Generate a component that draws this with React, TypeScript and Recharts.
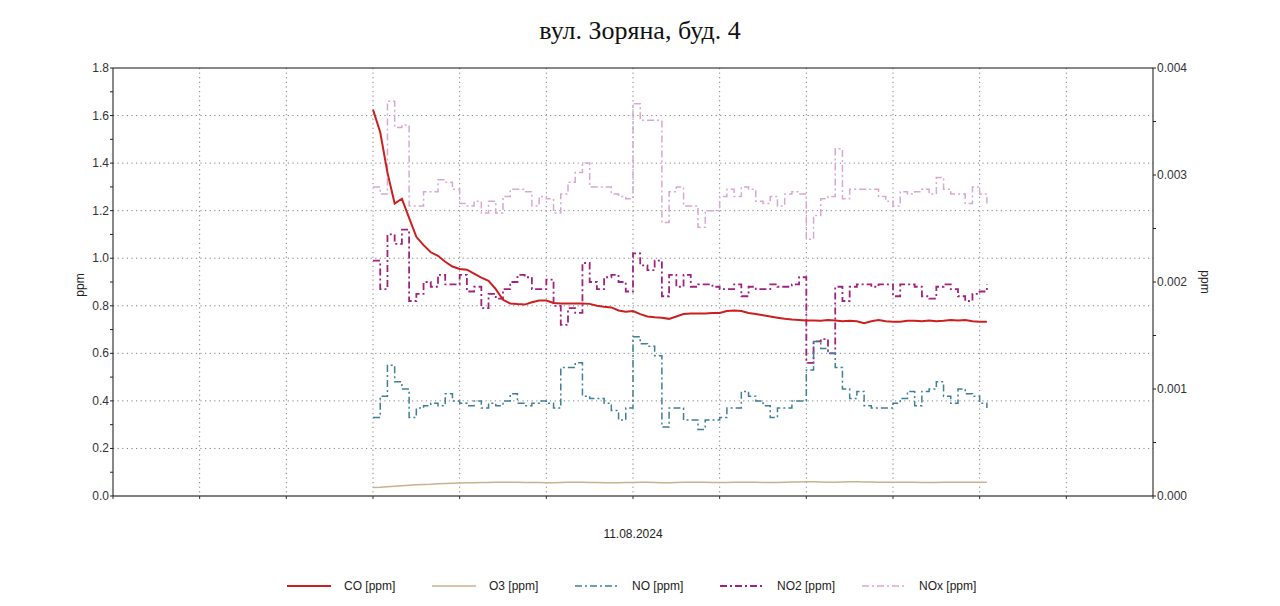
import * as React from "react";
import {
  LineChart,
  Line,
  XAxis,
  YAxis,
  CartesianGrid,
  ReferenceLine,
} from "recharts";

// ── Data: minutes since midnight on 11.08.2024, 10-min samples ──────────────
const TIMES = [
  360, 370, 380, 390, 400, 410, 420, 430, 440, 450,
  460, 470, 480, 490, 500, 510, 520, 530, 540, 550,
  560, 570, 580, 590, 600, 610, 620, 630, 640, 650,
  660, 670, 680, 690, 700, 710, 720, 730, 740, 750,
  760, 770, 780, 790, 800, 810, 820, 830, 840, 850,
  860, 870, 880, 890, 900, 910, 920, 930, 940, 950,
  960, 970, 980, 990, 1000, 1010, 1020, 1030, 1040, 1050,
  1060, 1070, 1080, 1090, 1100, 1110, 1120, 1130, 1140, 1150,
  1160, 1170, 1180, 1190, 1200, 1210,
];

const CO = [
  1.625, 1.53, 1.36, 1.23, 1.25, 1.17, 1.09, 1.055, 1.025, 1.01,
  0.985, 0.965, 0.955, 0.952, 0.935, 0.918, 0.905, 0.87, 0.825, 0.81,
  0.807, 0.805, 0.815, 0.822, 0.822, 0.812, 0.81, 0.81, 0.81, 0.81,
  0.808, 0.8, 0.796, 0.793, 0.78, 0.775, 0.778, 0.765, 0.755, 0.752,
  0.75, 0.745, 0.755, 0.765, 0.768, 0.768, 0.768, 0.77, 0.77, 0.778,
  0.78, 0.778, 0.77, 0.765, 0.76, 0.755, 0.75, 0.745, 0.742, 0.74,
  0.738, 0.738, 0.737, 0.74, 0.738, 0.735, 0.737, 0.735, 0.727, 0.735,
  0.74, 0.735, 0.733, 0.733, 0.737, 0.737, 0.735, 0.738, 0.735, 0.737,
  0.74, 0.738, 0.74, 0.735, 0.733, 0.733,
];

const O3 = [
  0.036, 0.037, 0.039, 0.041, 0.043, 0.045, 0.047, 0.048, 0.049, 0.051,
  0.053, 0.054, 0.055, 0.056, 0.056, 0.057, 0.057, 0.058, 0.058, 0.058,
  0.058, 0.057, 0.057, 0.057, 0.056, 0.056, 0.057, 0.058, 0.058, 0.058,
  0.057, 0.057, 0.056, 0.056, 0.056, 0.057, 0.057, 0.058, 0.058, 0.057,
  0.056, 0.056, 0.057, 0.058, 0.058, 0.058, 0.058, 0.057, 0.057, 0.057,
  0.058, 0.058, 0.058, 0.058, 0.057, 0.057, 0.057, 0.058, 0.059, 0.059,
  0.06, 0.06, 0.059, 0.058, 0.058, 0.059, 0.06, 0.06, 0.059, 0.059,
  0.058, 0.058, 0.058, 0.058, 0.058, 0.058, 0.057, 0.057, 0.057, 0.058,
  0.058, 0.058, 0.058, 0.058, 0.058, 0.058,
];

const NO = [
  0.33, 0.42, 0.55, 0.48, 0.45, 0.33, 0.37, 0.38, 0.39, 0.38,
  0.43, 0.4, 0.39, 0.38, 0.4, 0.37, 0.39, 0.38, 0.4, 0.43,
  0.39, 0.38, 0.39, 0.4, 0.39, 0.37, 0.54, 0.54, 0.56, 0.42,
  0.41, 0.41, 0.39, 0.36, 0.32, 0.37, 0.67, 0.64, 0.63, 0.59,
  0.29, 0.37, 0.37, 0.32, 0.32, 0.28, 0.32, 0.32, 0.33, 0.37,
  0.37, 0.44, 0.42, 0.4, 0.38, 0.33, 0.37, 0.37, 0.4, 0.4,
  0.53, 0.65, 0.62, 0.6, 0.54, 0.45, 0.41, 0.44, 0.38, 0.37,
  0.37, 0.37, 0.39, 0.41, 0.44, 0.38, 0.44, 0.45, 0.48, 0.42,
  0.39, 0.45, 0.43, 0.42, 0.39, 0.37,
];

const NO2 = [
  0.99, 0.87, 1.1, 1.06, 1.12, 0.82, 0.85, 0.9, 0.88, 0.93,
  0.89, 0.89, 0.93, 0.86, 0.88, 0.79, 0.85, 0.83, 0.87, 0.9,
  0.93, 0.92, 0.87, 0.87, 0.91, 0.8, 0.72, 0.79, 0.77, 0.98,
  0.9, 0.87, 0.92, 0.93, 0.9, 0.86, 1.02, 0.97, 0.95, 0.99,
  0.84, 0.93, 0.88, 0.93, 0.88, 0.89, 0.89, 0.88, 0.87, 0.87,
  0.89, 0.84, 0.88, 0.87, 0.87, 0.89, 0.88, 0.88, 0.89, 0.92,
  0.56, 0.65, 0.66, 0.6, 0.88, 0.82, 0.88, 0.89, 0.89, 0.88,
  0.89, 0.89, 0.84, 0.89, 0.89, 0.88, 0.84, 0.83, 0.88, 0.89,
  0.87, 0.84, 0.82, 0.85, 0.86, 0.89,
];

const NOX = [
  1.3, 1.27, 1.66, 1.55, 1.56, 1.22, 1.22, 1.28, 1.28, 1.33,
  1.32, 1.29, 1.23, 1.22, 1.24, 1.19, 1.24, 1.19, 1.26, 1.29,
  1.29, 1.28, 1.22, 1.26, 1.25, 1.19, 1.27, 1.32, 1.36, 1.4,
  1.3, 1.3, 1.3, 1.27, 1.26, 1.25, 1.65, 1.58, 1.58, 1.58,
  1.15, 1.28, 1.3, 1.22, 1.22, 1.13, 1.2, 1.2, 1.26, 1.29,
  1.26, 1.3, 1.29, 1.24, 1.23, 1.26, 1.22, 1.27, 1.28, 1.27,
  1.08, 1.18, 1.25, 1.26, 1.46, 1.25, 1.29, 1.29, 1.29, 1.29,
  1.26, 1.24, 1.22, 1.28, 1.27, 1.28, 1.29, 1.27, 1.34, 1.29,
  1.27, 1.27, 1.23, 1.3, 1.27, 1.23,
];

const X_TICKS = [0, 120, 240, 360, 480, 600, 720, 840, 960, 1080, 1200, 1320, 1440];
const LEFT_TICKS = [0, 0.1, 0.2, 0.3, 0.4, 0.5, 0.6, 0.7, 0.8, 0.9, 1.0, 1.1, 1.2, 1.3, 1.4, 1.5, 1.6, 1.7, 1.8];
const LEFT_GRID = [0.2, 0.4, 0.6, 0.8, 1.0, 1.2, 1.4, 1.6];
const RIGHT_TICKS = [0, 0.0005, 0.001, 0.0015, 0.002, 0.0025, 0.003, 0.0035, 0.004];

const TITLE = "вул. Зоряна, буд. 4";
const DATE_LABEL = "11.08.2024";
const UNIT = "ppm";

// ── Styling ────────────────────────────────────────────────────────────────
const SANS = "'Liberation Sans', Arial, sans-serif";
const DASH_DOT = "7 3 2 3";

const SERIES = [
  { key: "co", name: "CO [ppm]", color: "#cc1f1f", width: 2, dash: undefined, step: false },
  { key: "o3", name: "O3 [ppm]", color: "#c9b18f", width: 1.5, dash: undefined, step: false },
  { key: "no", name: "NO [ppm]", color: "#3f7f99", width: 1.5, dash: DASH_DOT, step: true },
  { key: "no2", name: "NO2 [ppm]", color: "#a3217f", width: 1.8, dash: DASH_DOT, step: true },
  { key: "nox", name: "NOx [ppm]", color: "#d9a7d0", width: 1.5, dash: DASH_DOT, step: true },
];

const LEGEND_X = [287, 432, 575, 720, 862];

const rows = TIMES.map((t, i) => ({
  t,
  co: CO[i],
  o3: O3[i],
  no: NO[i],
  no2: NO2[i],
  nox: NOX[i],
}));

function LeftTick(props: any) {
  const { x, y, payload } = props;
  const v = payload.value as number;
  if (Math.round(v * 10) % 2 !== 0) return null;
  return (
    <text x={x} y={y} dy={4} textAnchor="end" fontSize={12} fill="#333" fontFamily={SANS}>
      {v.toFixed(1)}
    </text>
  );
}

function RightTick(props: any) {
  const { x, y, payload } = props;
  const v = payload.value as number;
  if (Math.round(v * 2000) % 2 !== 0) return null;
  return (
    <text x={x} y={y} dy={4} textAnchor="start" fontSize={12} fill="#333" fontFamily={SANS}>
      {v.toFixed(3)}
    </text>
  );
}

export default function App() {
  return (
    <div
      style={{
        position: "absolute",
        left: 0,
        top: 0,
        width: 1280,
        height: 606,
        background: "#fff",
        overflow: "hidden",
      }}
    >
      <div
        style={{
          position: "absolute",
          left: 0,
          top: 16,
          width: 1280,
          textAlign: "center",
          fontFamily: "'Liberation Serif', 'Times New Roman', serif",
          fontSize: 26,
          color: "#111",
        }}
      >
        {TITLE}
      </div>

      <div style={{ position: "absolute", left: 0, top: 0 }}>
        <LineChart
          width={1280}
          height={606}
          data={rows}
          margin={{ top: 68, right: 77, bottom: 70, left: 63 }}
        >
          <CartesianGrid
            yAxisId="left"
            stroke="#808080"
            strokeDasharray="1.2 3.4"
            horizontalValues={LEFT_GRID}
            verticalValues={X_TICKS.slice(1, -1)}
          />
          <XAxis
            dataKey="t"
            type="number"
            domain={[0, 1440]}
            ticks={X_TICKS}
            tickFormatter={() => ""}
            tickSize={3}
            tickLine={{ stroke: "#333" }}
            axisLine={{ stroke: "#808080", strokeWidth: 2 }}
            height={40}
            label={{
              value: DATE_LABEL,
              position: "insideBottom",
              offset: -2,
              fontSize: 12,
              fill: "#222",
              fontFamily: SANS,
            }}
          />
          <YAxis
            yAxisId="left"
            type="number"
            domain={[0, 1.8]}
            ticks={LEFT_TICKS}
            interval={0}
            width={50}
            tickSize={3}
            tickMargin={1}
            tickLine={{ stroke: "#222" }}
            axisLine={{ stroke: "#111" }}
            tick={<LeftTick />}
          />
          <YAxis
            yAxisId="right"
            orientation="right"
            type="number"
            domain={[0, 0.004]}
            allowDataOverflow
            ticks={RIGHT_TICKS}
            interval={0}
            width={50}
            tickSize={3}
            tickMargin={1}
            tickLine={{ stroke: "#222" }}
            axisLine={{ stroke: "#111" }}
            tick={<RightTick />}
          />
          <ReferenceLine yAxisId="left" y={1.8} stroke="#111" />
          {/* invisible series so the secondary ppm axis gets a scale */}
          <Line
            yAxisId="right"
            dataKey="o3"
            stroke="transparent"
            strokeWidth={0}
            dot={false}
            activeDot={false}
            legendType="none"
            isAnimationActive={false}
          />
          {SERIES.slice()
            .reverse()
            .map((s) => (
              <Line
                key={s.key}
                yAxisId="left"
                dataKey={s.key}
                name={s.name}
                type={s.step ? "stepAfter" : "linear"}
                stroke={s.color}
                strokeWidth={s.width}
                strokeDasharray={s.dash}
                dot={false}
                activeDot={false}
                isAnimationActive={false}
              />
            ))}
        </LineChart>
      </div>

      <div
        style={{
          position: "absolute",
          left: 80,
          top: 285,
          transform: "translate(-50%, -50%) rotate(-90deg)",
          fontFamily: SANS,
          fontSize: 12,
          color: "#222",
        }}
      >
        {UNIT}
      </div>
      <div
        style={{
          position: "absolute",
          left: 1205,
          top: 282,
          transform: "translate(-50%, -50%) rotate(90deg)",
          fontFamily: SANS,
          fontSize: 12,
          color: "#222",
        }}
      >
        {UNIT}
      </div>

      {SERIES.map((s, i) => (
        <div
          key={s.key}
          style={{
            position: "absolute",
            left: LEGEND_X[i],
            top: 578,
            height: 16,
            display: "flex",
            alignItems: "center",
            fontFamily: SANS,
            fontSize: 12,
            color: "#222",
          }}
        >
          <svg width={44} height={16} style={{ marginRight: 13 }}>
            <line
              x1={0}
              y1={8}
              x2={44}
              y2={8}
              stroke={s.color}
              strokeWidth={s.width}
              strokeDasharray={s.dash}
            />
          </svg>
          <span>{s.name}</span>
        </div>
      ))}
    </div>
  );
}
